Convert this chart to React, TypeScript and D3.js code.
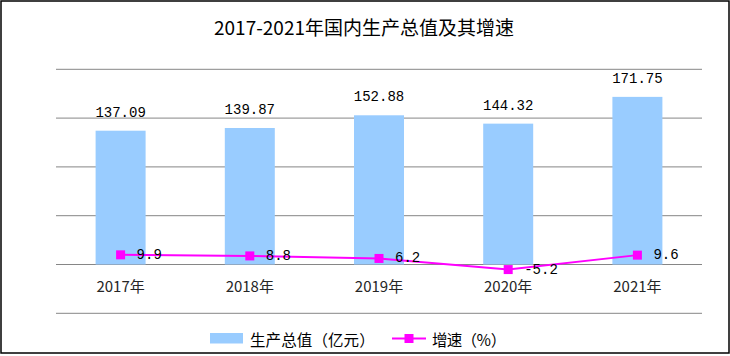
import React from "react";
import * as d3 from "d3";

const categories = ["2017年", "2018年", "2019年", "2020年", "2021年"];
const gdpValues = [137.09, 139.87, 152.88, 144.32, 171.75];
const growthValues = [9.9, 8.8, 6.2, -5.2, 9.6];
const yTicks = [-50, 0, 50, 100, 150, 200];
const title = "2017-2021年国内生产总值及其增速";
const legendBar = "生产总值（亿元）";
const legendLine = "增速（％）";

const W = 730;
const H = 356;
const CJK = "'Noto Sans CJK SC', sans-serif";
const MONO = "'Liberation Mono', monospace";

function FixedText({ text, x0, y0, adv }: { text: string; x0: number; y0: number; adv: number }) {
  const chars = Array.from(text);
  return (
    <text y={y0} dominantBaseline="central" fontFamily={CJK} fontSize={15.5} fill="#000">
      {chars.map((ch, i) => (
        <tspan key={i} x={x0 + i * adv} y={y0}>
          {ch}
        </tspan>
      ))}
    </text>
  );
}

export default function App() {
  const x = d3
    .scaleBand<string>()
    .domain(categories)
    .range([56, 702])
    .paddingInner(0.613)
    .paddingOuter(0.3065);
  const y = d3.scaleLinear().domain([-50, 200]).range([313.3, 69.3]);
  const cx = (c: string) => (x(c) as number) + x.bandwidth() / 2;

  const line = d3
    .line<number>()
    .x((_, i) => cx(categories[i]))
    .y((d) => y(d));

  const ms = 9;

  return (
    <div style={{ position: "absolute", left: 0, top: 0 }}>
      <svg width={W} height={H} style={{ display: "block", background: "#fff" }}>
        <rect x={1} y={1} width={728} height={352} fill="#fff" stroke="#000" strokeWidth={1.5} />
        <text x={364} y={35} textAnchor="middle" fontFamily={CJK} fontSize={19} fill="#000">
          {title}
        </text>
        {yTicks.map((t) => (
          <line key={t} x1={56} x2={702} y1={y(t)} y2={y(t)} stroke="#868686" strokeWidth={1} />
        ))}
        {categories.map((c, i) => (
          <rect
            key={c}
            x={x(c)}
            width={x.bandwidth()}
            y={y(gdpValues[i])}
            height={y(0) - y(gdpValues[i])}
            fill="#99CCFF"
          />
        ))}
        {categories.map((c, i) => (
          <text
            key={"bl" + c}
            x={cx(c)}
            y={y(gdpValues[i]) - 14}
            textAnchor="middle"
            fontFamily={MONO}
            fontSize={14}
            fill="#000"
          >
            {gdpValues[i].toFixed(2)}
          </text>
        ))}
        {categories.map((c) => (
          <text
            key={"cl" + c}
            x={cx(c)}
            y={285}
            textAnchor="middle"
            dominantBaseline="central"
            fontFamily={CJK}
            fontSize={15}
            fill="#262626"
          >
            {c}
          </text>
        ))}
        <path d={line(growthValues) || ""} fill="none" stroke="#FF00FF" strokeWidth={2} />
        {categories.map((c, i) => (
          <rect
            key={"m" + c}
            x={cx(c) - ms / 2}
            y={y(growthValues[i]) - ms / 2}
            width={ms}
            height={ms}
            fill="#FF00FF"
          />
        ))}
        {categories.map((c, i) => (
          <text
            key={"gl" + c}
            x={cx(c) + 16}
            y={y(growthValues[i])}
            dominantBaseline="central"
            fontFamily={MONO}
            fontSize={14}
            fill="#000"
          >
            {growthValues[i].toFixed(1)}
          </text>
        ))}
        <rect x={210} y={333} width={33} height={10.5} fill="#99CCFF" />
        <FixedText text={legendBar} x0={250} y0={338.5} adv={15.6} />
        <line x1={392} x2={426} y1={338.5} y2={338.5} stroke="#FF00FF" strokeWidth={2} />
        <rect x={409 - 4.5} y={338.5 - 4.5} width={9} height={9} fill="#FF00FF" />
        <FixedText text={legendLine} x0={432} y0={338.5} adv={14.7} />
      </svg>
    </div>
  );
}
